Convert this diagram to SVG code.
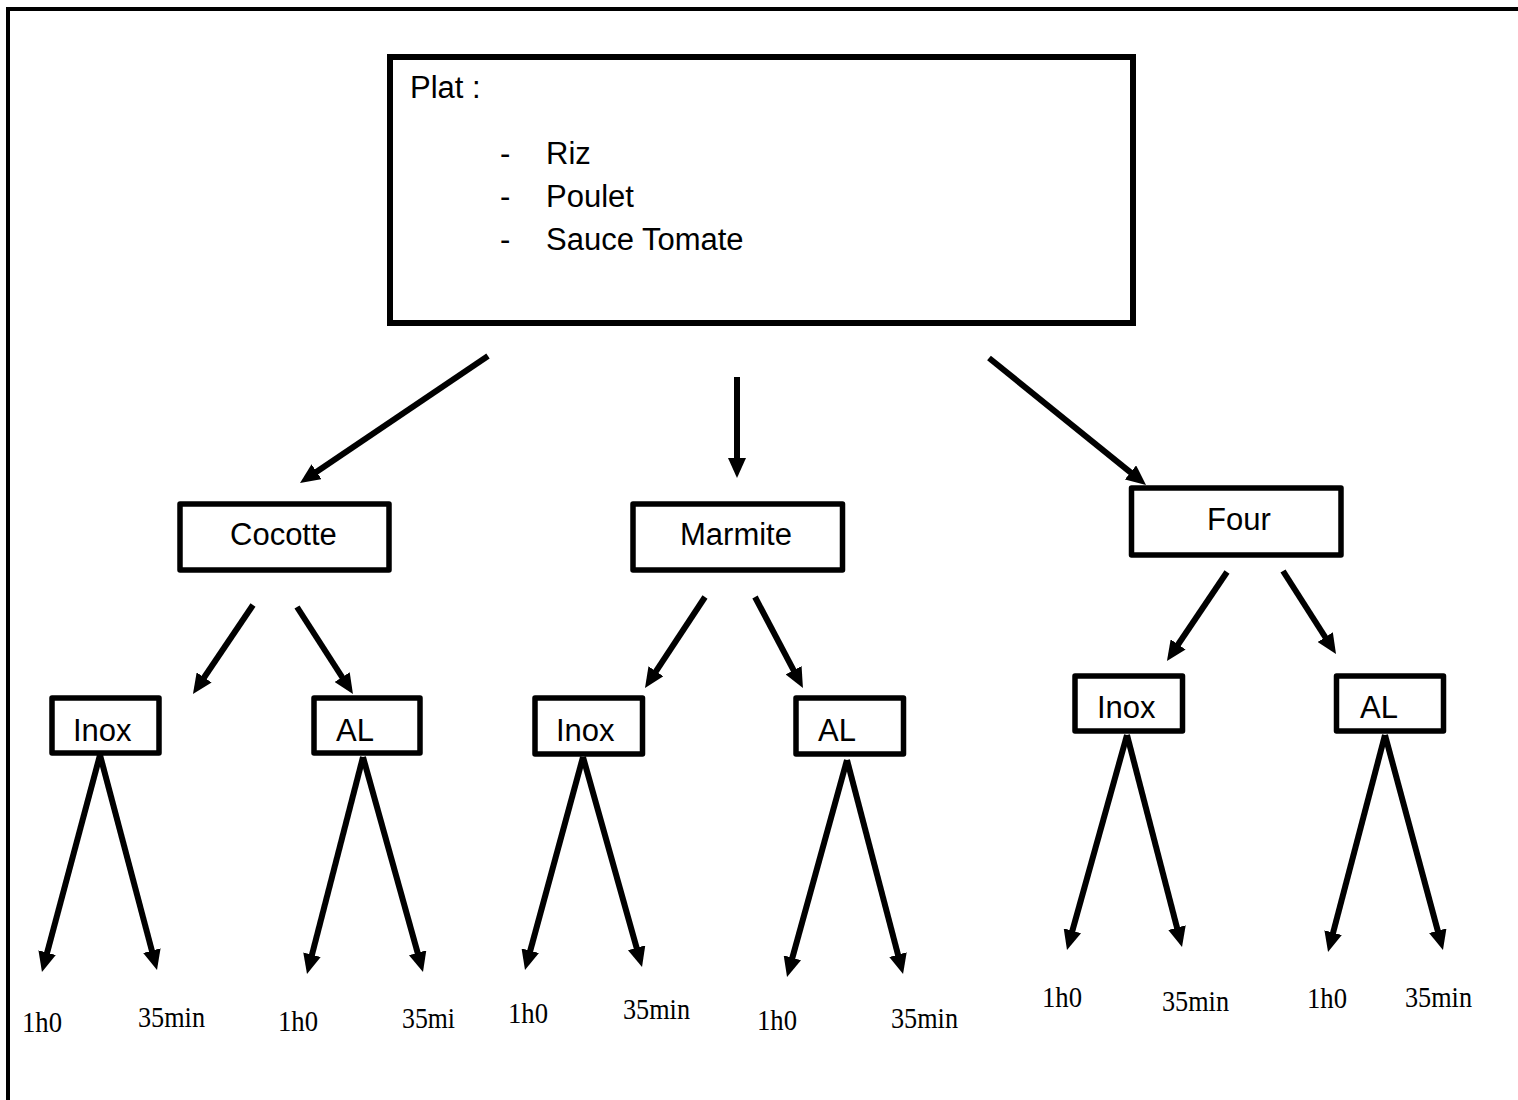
<svg xmlns="http://www.w3.org/2000/svg" width="1518" height="1100" viewBox="0 0 1518 1100">
<style>
.bg{fill:#ffffff}
.frame{fill:none;stroke:#000;stroke-width:4}
.box{fill:#fff;stroke:#000;stroke-width:5.5;stroke-linejoin:round}
.big{fill:#fff;stroke:#000;stroke-width:6}
.lbl{font-family:"Liberation Sans",Arial,sans-serif;font-size:31px;fill:#000}
.t{font-family:"Liberation Serif","Times New Roman",serif;font-size:30px;fill:#000}
.c line{stroke:#000;stroke-width:6;marker-end:url(#ah)}
</style>
<defs>
<marker id="ah" markerUnits="userSpaceOnUse" viewBox="0 0 20 18" markerWidth="20" markerHeight="18" refX="4" refY="9" orient="auto">
<path d="M0,0 L20,9 L0,18 Z" fill="#000"/>
</marker>
</defs>
<rect class="bg" x="0" y="0" width="1518" height="1100"/>
<rect class="frame" x="8" y="9" width="1530" height="1110"/>

<g id="plat">
<rect class="big" x="390" y="57" width="743" height="266"/>
<text class="lbl" x="410" y="98">Plat :</text>
<text class="lbl" x="500" y="164">-</text>
<text class="lbl" x="546" y="164">Riz</text>
<text class="lbl" x="500" y="207">-</text>
<text class="lbl" x="546" y="207">Poulet</text>
<text class="lbl" x="500" y="250">-</text>
<text class="lbl" x="546" y="250">Sauce Tomate</text>
</g>

<g id="cocotte">
<rect class="box" x="180" y="504" width="209" height="66"/>
<text class="lbl" x="230" y="545">Cocotte</text>
</g>
<g id="marmite">
<rect class="box" x="633" y="504" width="209.5" height="66"/>
<text class="lbl" x="680" y="545">Marmite</text>
</g>
<g id="four">
<rect class="box" x="1131.5" y="488" width="209.5" height="67"/>
<text class="lbl" x="1207" y="530">Four</text>
</g>

<g id="cocotte-inox">
<rect class="box" x="52" y="698" width="107" height="55"/>
<text class="lbl" x="73" y="741">Inox</text>
</g>
<g id="cocotte-al">
<rect class="box" x="314" y="698" width="106" height="55"/>
<text class="lbl" x="336" y="741">AL</text>
</g>
<g id="marmite-inox">
<rect class="box" x="535" y="698" width="107.5" height="56"/>
<text class="lbl" x="556" y="741">Inox</text>
</g>
<g id="marmite-al">
<rect class="box" x="796" y="698" width="107.5" height="56"/>
<text class="lbl" x="818" y="741">AL</text>
</g>
<g id="four-inox">
<rect class="box" x="1075" y="676" width="107.5" height="55"/>
<text class="lbl" x="1097" y="718">Inox</text>
</g>
<g id="four-al">
<rect class="box" x="1336.5" y="676" width="107" height="55"/>
<text class="lbl" x="1360" y="718">AL</text>
</g>

<g id="connectors" class="c">
<line x1="488" y1="356" x2="313.3" y2="474"/>
<line x1="737" y1="377" x2="737" y2="462"/>
<line x1="989" y1="358" x2="1133.6" y2="474.9"/>
<line x1="253" y1="605" x2="201.9" y2="680.7"/>
<line x1="297" y1="607" x2="344.3" y2="680.5"/>
<line x1="705" y1="597" x2="653.8" y2="674.6"/>
<line x1="755" y1="597" x2="795.5" y2="673.8"/>
<line x1="1227" y1="572" x2="1175.9" y2="647.7"/>
<line x1="1283" y1="571" x2="1327.4" y2="640.5"/>
<line x1="100" y1="755" x2="46.1" y2="956.5"/>
<line x1="100" y1="755" x2="152.9" y2="954.5"/>
<line x1="363" y1="757" x2="311" y2="958.5"/>
<line x1="363" y1="757" x2="418.7" y2="956.6"/>
<line x1="583" y1="757" x2="529.2" y2="954.6"/>
<line x1="583" y1="757" x2="637.7" y2="951.6"/>
<line x1="847" y1="760" x2="791.3" y2="961.6"/>
<line x1="847" y1="760" x2="899" y2="958.5"/>
<line x1="1127" y1="735" x2="1071.3" y2="934.6"/>
<line x1="1127" y1="735" x2="1178" y2="931.5"/>
<line x1="1385" y1="735" x2="1332.1" y2="936.5"/>
<line x1="1385" y1="735" x2="1438.8" y2="934.6"/>
</g>

<g id="times">
<text class="t" x="22" y="1032" textLength="40" lengthAdjust="spacingAndGlyphs">1h0</text>
<text class="t" x="138" y="1027" textLength="67" lengthAdjust="spacingAndGlyphs">35min</text>
<text class="t" x="278" y="1031" textLength="40" lengthAdjust="spacingAndGlyphs">1h0</text>
<text class="t" x="402" y="1028" textLength="53" lengthAdjust="spacingAndGlyphs">35mi</text>
<text class="t" x="508" y="1023" textLength="40" lengthAdjust="spacingAndGlyphs">1h0</text>
<text class="t" x="623" y="1019" textLength="67" lengthAdjust="spacingAndGlyphs">35min</text>
<text class="t" x="757" y="1030" textLength="40" lengthAdjust="spacingAndGlyphs">1h0</text>
<text class="t" x="891" y="1028" textLength="67" lengthAdjust="spacingAndGlyphs">35min</text>
<text class="t" x="1042" y="1007" textLength="40" lengthAdjust="spacingAndGlyphs">1h0</text>
<text class="t" x="1162" y="1011" textLength="67" lengthAdjust="spacingAndGlyphs">35min</text>
<text class="t" x="1307" y="1008" textLength="40" lengthAdjust="spacingAndGlyphs">1h0</text>
<text class="t" x="1405" y="1007" textLength="67" lengthAdjust="spacingAndGlyphs">35min</text>
</g>
</svg>
